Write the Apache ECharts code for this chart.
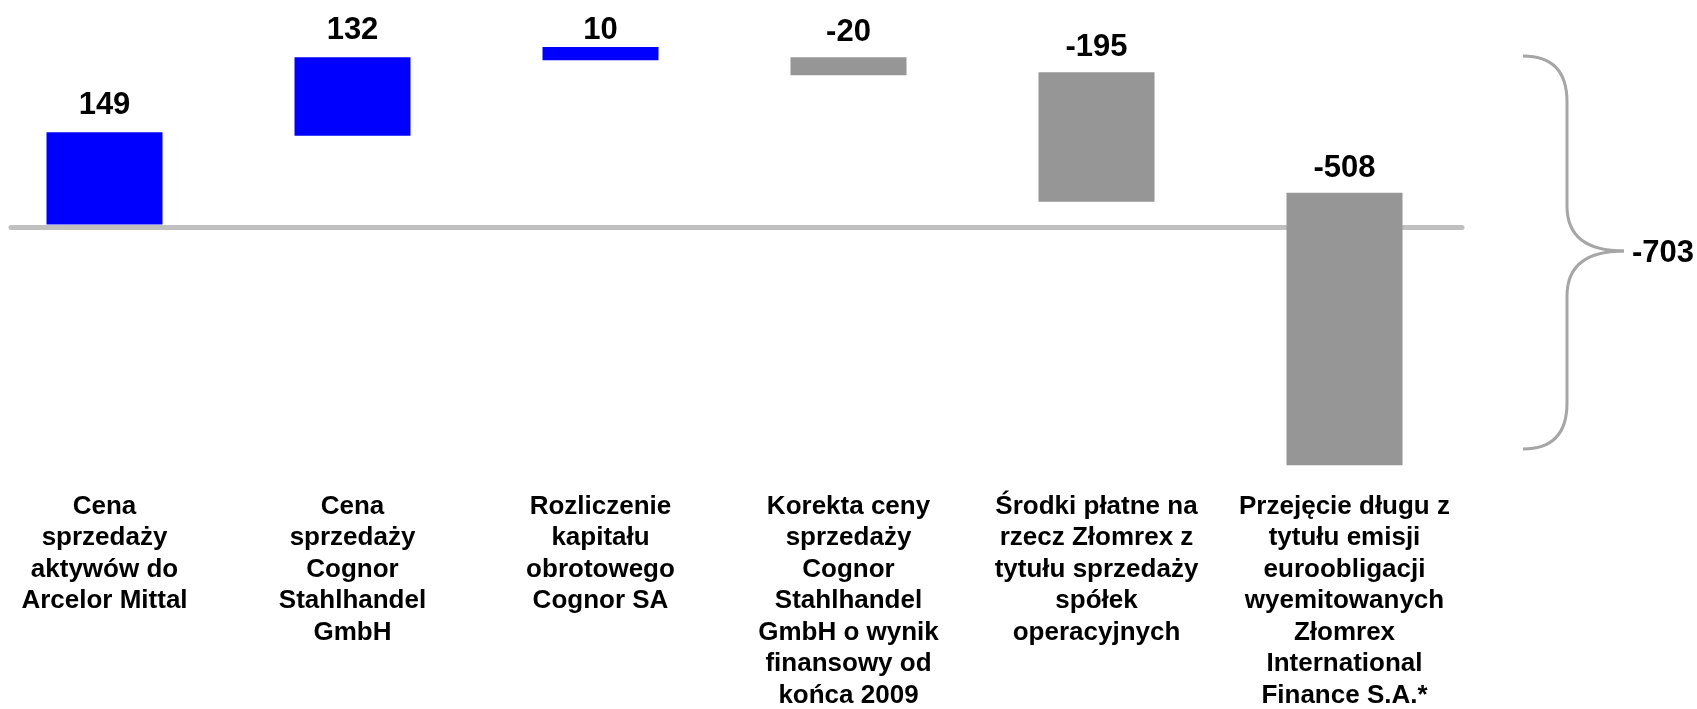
<!DOCTYPE html>
<html>
<head>
<meta charset="utf-8">
<script src="https://cdn.jsdelivr.net/npm/echarts@6/dist/echarts.min.js"></script>
<style>
  html, body { margin: 0; padding: 0; background: #fff; }
  #chart { width: 1697px; height: 709px; }
</style>
</head>
<body>
<div id="chart"></div>
<script>
// categories (line breaks as in the picture)
var categories = [
  'Cena\nsprzedaży\naktywów do\nArcelor Mittal',
  'Cena\nsprzedaży\nCognor\nStahlhandel\nGmbH',
  'Rozliczenie\nkapitału\nobrotowego\nCognor SA',
  'Korekta ceny\nsprzedaży\nCognor\nStahlhandel\nGmbH o wynik\nfinansowy od\nkońca 2009',
  'Środki płatne na\nrzecz Złomrex z\ntytułu sprzedaży\nspółek\noperacyjnych',
  'Przejęcie długu z\ntytułu emisji\neuroobligacji\nwyemitowanych\nZłomrex\nInternational\nFinance S.A.*'
];
// printed values
var values = [149, 132, 10, -20, -195, -508];
// bar ends as drawn (the picture is not to scale)
var barLow  = [4, 152, 278, 253, 42, -397];
var barHigh = [158, 283, 300, 283, 258, 57];
var totalLabel = '-703';

var FONT = '"Liberation Sans", Arial, sans-serif';
var blue = '#0000ff', grey = '#969696';

var chart = echarts.init(document.getElementById('chart'));

var baseData = barLow.slice();
var barData = barHigh.map(function (h, i) {
  var d = values[i] > 0 ? 11 : 9;
  if (Math.abs(values[i]) < 15) d = 1;
  return { value: h - barLow[i], label: { distance: d } };
});

// curly brace on the right
var braceStyle = { stroke: '#a6a6a6', lineWidth: 3, fill: 'none' };
function curve(x1, y1, cx, cy, x2, y2) {
  return { type: 'bezierCurve', z: 10, shape: { x1: x1, y1: y1, cpx1: cx, cpy1: cy, x2: x2, y2: y2 }, style: braceStyle };
}
function seg(x1, y1, x2, y2) {
  return { type: 'line', z: 10, shape: { x1: x1, y1: y1, x2: x2, y2: y2 }, style: braceStyle };
}

chart.setOption({
  animation: false,
  grid: [
    { left: -19.5, right: 228.5, top: 17, height: 480, outerBoundsMode: 'none', containLabel: false },
    { left: 11, right: 235, top: 17, height: 480, outerBoundsMode: 'none', containLabel: false }
  ],
  xAxis: [
    {
      type: 'category', gridIndex: 0, data: categories, position: 'bottom',
      axisLine: { show: false, onZero: false }, axisTick: { show: false },
      axisLabel: {
        margin: -6, interval: 0, hideOverlap: false,
        fontFamily: FONT, fontSize: 26, fontWeight: 'bold', color: '#000',
        lineHeight: 31.5, align: 'center'
      }
    },
    {
      type: 'value', gridIndex: 1, min: 0, max: 1,
      axisLine: { show: true, onZero: true, lineStyle: { color: '#c0c0c0', width: 5 } },
      axisTick: { show: false }, axisLabel: { show: false }, splitLine: { show: false }
    }
  ],
  yAxis: [
    { type: 'value', gridIndex: 0, min: -450, max: 350, show: false, splitLine: { show: false } },
    { type: 'value', gridIndex: 1, min: -450, max: 350, show: false, splitLine: { show: false } }
  ],
  series: [
    {
      name: 'base', type: 'bar', stack: 'w', stackStrategy: 'all',
      barWidth: 116, data: baseData,
      itemStyle: { color: 'transparent' }, silent: true, z: 3
    },
    {
      name: 'zmiana', type: 'bar', stack: 'w', stackStrategy: 'all',
      barWidth: 116, data: barData, z: 3,
      itemStyle: {
        color: function (p) { return values[p.dataIndex] > 0 ? blue : grey; }
      },
      label: {
        show: true, position: 'top',
        fontFamily: FONT, fontSize: 31, fontWeight: 'bold', color: '#000',
        formatter: function (p) { return String(values[p.dataIndex]); }
      }
    }
  ],
  graphic: [
    curve(1523, 56, 1567, 56, 1567, 102),
    seg(1567, 102, 1567, 206),
    curve(1567, 206, 1567, 251, 1624, 251),
    curve(1624, 251, 1567, 251, 1567, 296),
    seg(1567, 296, 1567, 403),
    curve(1567, 403, 1567, 449, 1523, 449),
    {
      type: 'text', z: 10, left: 1632, top: 238,
      style: {
        text: totalLabel, fill: '#000',
        font: 'bold 31px ' + FONT
      }
    }
  ]
});
</script>
</body>
</html>
